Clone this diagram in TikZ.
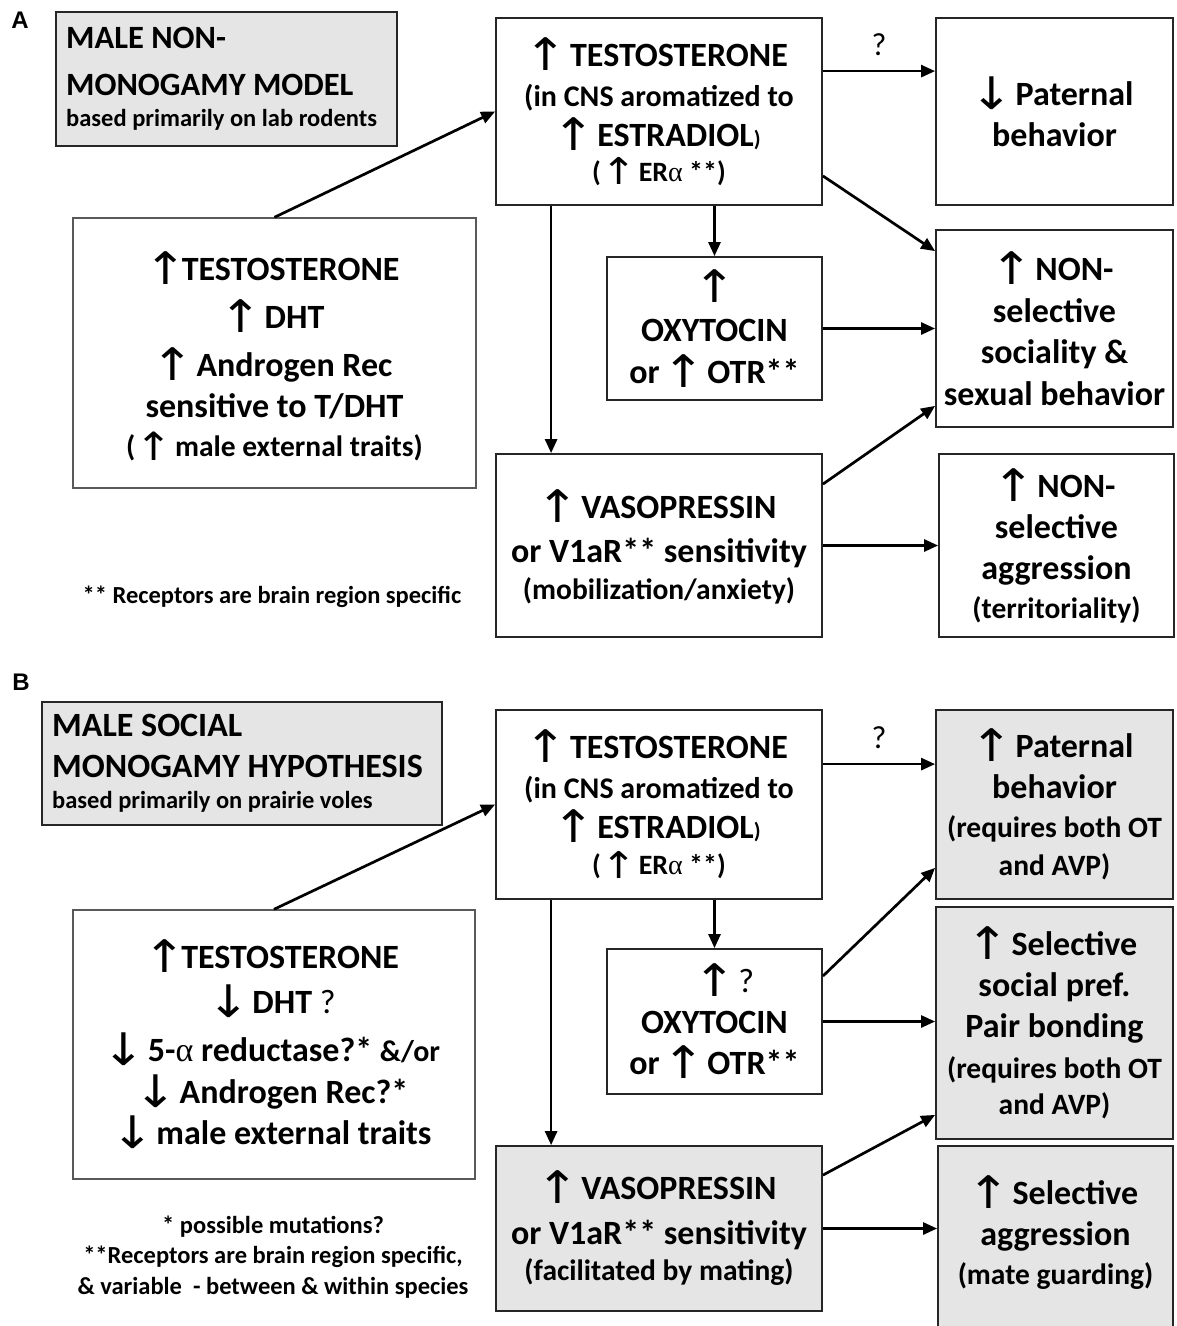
\documentclass[tikz,border=0pt]{standalone}
\usepackage{fontspec}
\usepackage{graphicx}
\setmainfont{Carlito}
\newfontfamily\arwfont{DejaVu Sans}
\newfontfamily\grkfont{Liberation Serif}
\newfontfamily\panfont{Liberation Sans}
\usetikzlibrary{arrows.meta}
\newcommand{\ARWG}[1]{\makebox[0.95em]{\raisebox{-0.12em}{\scalebox{1.5}[1.32]{\arwfont\mdseries\char"#1}}}}
\newcommand{\UP}{\ARWG{2191}}
\newcommand{\DN}{\ARWG{2193}}
\newcommand{\ALPHA}{{\grkfont\mdseries\char"03B1}}
\newcommand{\FS}[2]{\fontsize{#1}{#2}\selectfont}
\begin{document}
\begin{tikzpicture}[x=1pt,y=-1pt,
  bx/.style={draw=black!85, line width=1.8pt, inner sep=0pt, align=center},
  gbx/.style={bx, fill=black!10},
  lbx/.style={draw=black!65, line width=1.4pt, inner sep=0pt, align=center},
  txt/.style={inner sep=0pt, align=center},
  arr/.style={line width=2.7pt, draw=black, -{Triangle[length=14pt,width=12pt]}},
  qlab/.style={font=\mdseries\FS{32}{32}, inner sep=0pt},
  fn/.style={font=\bfseries\FS{24.5}{30.5}, align=center, inner sep=0pt},
  pan/.style={font=\panfont\bfseries\FS{24}{24}, inner sep=0pt},
]
\useasboundingbox (0,0) rectangle (1176,1326);
\fill[white] (0,0) rectangle (1176,1326);

% ---------------- Panel A ----------------
\node[pan] (labA) at (20,20) {A};

\node[bx, fill=black!10, minimum width=341pt, minimum height=134pt] (titA) at (226.5,79) {};
\node[anchor=west, align=left, inner sep=0pt, font=\bfseries\FS{32.5}{47}] (titAt) at (66,79)
  {MALE NON-\\MONOGAMY MODEL\\[-15.5pt]{\FS{24.5}{30}based primarily on lab rodents}};

\node[bx, minimum width=326pt, minimum height=187pt, font=\bfseries\FS{34}{40}] (tA) at (659,111.5)
  {\UP\ TESTOSTERONE\\{\FS{30}{36}(in CNS aromatized to}\\\UP\ ESTRADIOL{\FS{22}{26})}\\[-5pt]{\FS{28}{34}(\kern5pt\UP\ ER\ALPHA\ **)}};

\node[bx, minimum width=237pt, minimum height=187pt, font=\bfseries\FS{34}{41}] (pA) at (1054.5,111.5)
  {\DN\ Paternal\\behavior};

\node[lbx, minimum width=403pt, minimum height=270pt, font=\bfseries\FS{34}{48}] (lA) at (274.5,353)
  {\rule{0pt}{36pt}\UP TESTOSTERONE\\\UP\ DHT\\\UP\ Androgen Rec\\[-7pt]sensitive to T/DHT\\[-9pt]{\FS{29.5}{34}(\kern5pt\UP\ male external traits)}};

\node[bx, minimum width=215pt, minimum height=143pt, font=\bfseries\FS{34}{43}] (oA) at (714.5,328.5)
  {\UP\\OXYTOCIN\\[-1pt]or \UP\ OTR**};

\node[bx, minimum width=237pt, minimum height=197pt, font=\bfseries\FS{34}{41.5}] (sA) at (1054.5,328.5)
  {\UP\ NON-\\selective\\sociality \&\\sexual behavior};

\node[bx, minimum width=326pt, minimum height=183pt, font=\bfseries\FS{34}{44}] (vA) at (659,545.5)
  {\rule{0pt}{32pt}\UP\ VASOPRESSIN\\or V1aR** sensitivity\\[-7pt]{\FS{29.5}{34}(mobilization/anxiety)}};

\node[bx, minimum width=235pt, minimum height=183pt, font=\bfseries\FS{34}{41}] (agA) at (1056.5,545.5)
  {\UP\ NON-\\selective\\aggression\\[-2pt]{\FS{29.5}{34}(territoriality)}};

\node[fn] (fnA) at (272,597) {** Receptors are brain region specific};

\draw[arr] (lA.north) -- (tA.west);
\draw[arr] ([yshift=-54pt]tA.north east) -- node[qlab, above=14pt] (qA) {?} ([yshift=-54pt]pA.north west);
\draw[arr] ([yshift=30pt]tA.south east) -- ([yshift=-22pt]sA.north west);
\draw[arr] (tA.south -| oA.north) -- (oA.north);
\draw[arr] ([xshift=56pt]tA.south west) -- ([xshift=56pt]vA.north west);
\draw[arr] (oA.east) -- (oA.east -| sA.west);
\draw[arr] ([yshift=-31pt]vA.north east) -- ([yshift=22pt]sA.south west);
\draw[arr] (vA.east) -- (vA.east -| agA.west);

% ---------------- Panel B ----------------
\node[pan] (labB) at (21,682) {B};

\node[bx, fill=black!10, minimum width=400pt, minimum height=123pt] (titB) at (242,763.5) {};
\node[anchor=west, align=left, inner sep=0pt, font=\bfseries\FS{34}{41}] (titBt) at (52,763.5)
  {MALE SOCIAL\\MONOGAMY HYPOTHESIS\\[-10pt]{\FS{24.5}{30}based primarily on prairie voles}};

\node[bx, minimum width=326pt, minimum height=189pt, font=\bfseries\FS{34}{40}] (tB) at (659,804.5)
  {\UP\ TESTOSTERONE\\{\FS{30}{36}(in CNS aromatized to}\\\UP\ ESTRADIOL{\FS{22}{26})}\\[-4pt]{\FS{28}{34}(\kern5pt\UP\ ER\ALPHA\ **)}};

\node[gbx, minimum width=237pt, minimum height=189pt, font=\bfseries\FS{34}{41}] (pB) at (1054.5,804.5)
  {\UP\ Paternal\\behavior\\[-2pt]{\FS{29.5}{34}(requires both OT}\\[-3pt]{\FS{29.5}{34}and AVP)}};

\node[lbx, minimum width=402pt, minimum height=269pt, font=\bfseries\FS{34}{45}] (lB) at (274,1044.5)
  {\UP TESTOSTERONE\\\DN\ DHT {\mdseries ?}\\[3pt]\DN\ 5-\ALPHA\ reductase?* {\FS{30}{34}\&/or}\\[-3pt]\DN\ Androgen Rec?*\\[-4pt]\DN\ male external traits};

\node[bx, minimum width=215pt, minimum height=145pt, font=\bfseries\FS{34}{41}] (oB) at (714.5,1021.5)
  {\hphantom{\ {\mdseries ?}}\UP\ {\mdseries ?}\\OXYTOCIN\\or \UP\ OTR**};

\node[gbx, minimum width=237pt, minimum height=232pt, font=\bfseries\FS{34}{41}] (sB) at (1054.5,1023)
  {\UP\ Selective\\social pref.\\Pair bonding\\{\FS{29.5}{34}(requires both OT}\\[-5pt]{\FS{29.5}{34}and AVP)}};

\node[gbx, minimum width=326pt, minimum height=165pt, font=\bfseries\FS{34}{45}] (vB) at (659,1228.5)
  {\UP\ VASOPRESSIN\\or V1aR** sensitivity\\[-9pt]{\FS{29.5}{34}(facilitated by mating)}};

\node[gbx, minimum width=235pt, minimum height=200pt] (agB) at (1055.5,1246) {};
\node[txt, font=\bfseries\FS{34}{41}] (agBt) at (1055.5,1233)
  {\UP\ Selective\\aggression\\[-2pt]{\FS{29.5}{34}(mate guarding)}};

\node[fn] (fnB) at (273,1257)
  {* possible mutations?\\**Receptors are brain region specific,\\\&\ variable\ \ - between \& within species};

\draw[arr] (lB.north) -- (tB.west);
\draw[arr] ([yshift=-55pt]tB.north east) -- node[qlab, above=14pt] (qB) {?} ([yshift=-55pt]pB.north west);
\draw[arr] (tB.south -| oB.north) -- (oB.north);
\draw[arr] ([xshift=56pt]tB.south west) -- ([xshift=56pt]vB.north west);
\draw[arr] ([yshift=-28pt]oB.north east) -- ([yshift=32pt]pB.south west);
\draw[arr] (oB.east) -- (oB.east -| sB.west);
\draw[arr] ([yshift=-30pt]vB.north east) -- ([yshift=25pt]sB.south west);
\draw[arr] (vB.east) -- (vB.east -| agB.west);
\end{tikzpicture}
\end{document}
